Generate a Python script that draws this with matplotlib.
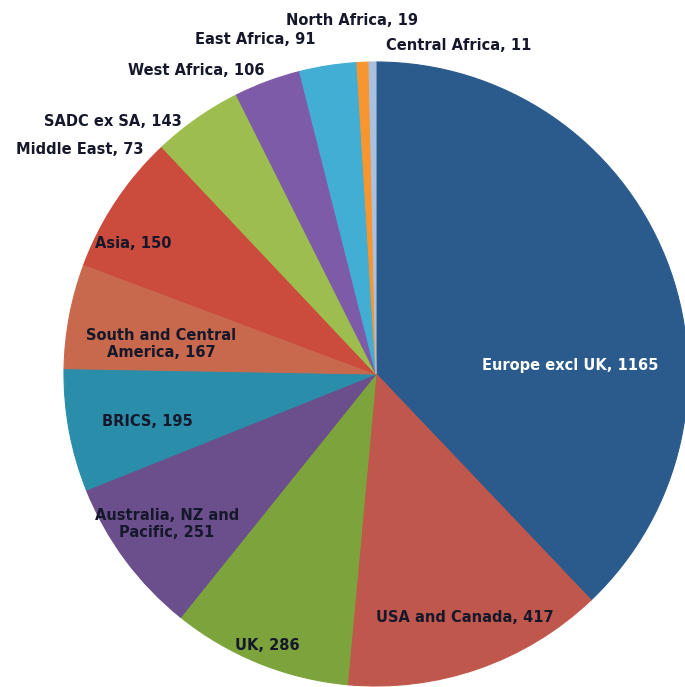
import matplotlib
matplotlib.use("Agg")
import matplotlib.pyplot as plt

# Data (clockwise from 12 o'clock)
regions = ["Europe excl UK", "USA and Canada", "UK", "Australia, NZ and\nPacific",
           "BRICS", "South and Central\nAmerica", "Asia", "Middle East",
           "SADC ex SA", "West Africa", "East Africa", "North Africa", "Central Africa"]
values = [1165, 417, 286, 251, 195, 167, 150, 73, 143, 106, 91, 19, 11]
colors = ["#2B5B8C", "#C0574D", "#7DA43C", "#6B4E8C", "#2A8DAA", "#C8694D",
          "#CB4B3D", "#CB4B3D", "#9DBE4E", "#7E5BA8", "#43AED3", "#F7952F", "#A9C0E0"]

# label anchor positions in pixels (x from left, y from top) -- layout only
label_px = [(570, 366), (465, 617), (267, 645), (167, 524), (147, 422), (161, 344),
            (133, 244), (80, 150), (113, 122), (196, 71), (255, 40), (352, 21), (459, 46)]
label_colors = ["white"] + ["#15182A"] * 12

W, H = 685, 687
CX, CY, R = 376, 374, 312

fig = plt.figure(figsize=(W / 100, H / 100), dpi=100)
ax = fig.add_axes([0, 0, 1, 1])
wedges, _ = ax.pie(values, colors=colors, startangle=90, counterclock=False, radius=1.0,
                   wedgeprops=dict(linewidth=0.8))
for w in wedges:
    w.set_edgecolor(w.get_facecolor())
ax.set_aspect("auto")
ax.set_xlim(-CX / R, (W - CX) / R)
ax.set_ylim(-(H - CY) / R, CY / R)
ax.axis("off")

for name, v, (px, py), c in zip(regions, values, label_px, label_colors):
    ax.text((px - CX) / R, (CY - py) / R, f"{name}, {v}", ha="center", va="center",
            fontsize=10.5, fontweight="bold", color=c, family="DejaVu Sans",
            linespacing=1.15)

fig.savefig("out.png", dpi=100)
